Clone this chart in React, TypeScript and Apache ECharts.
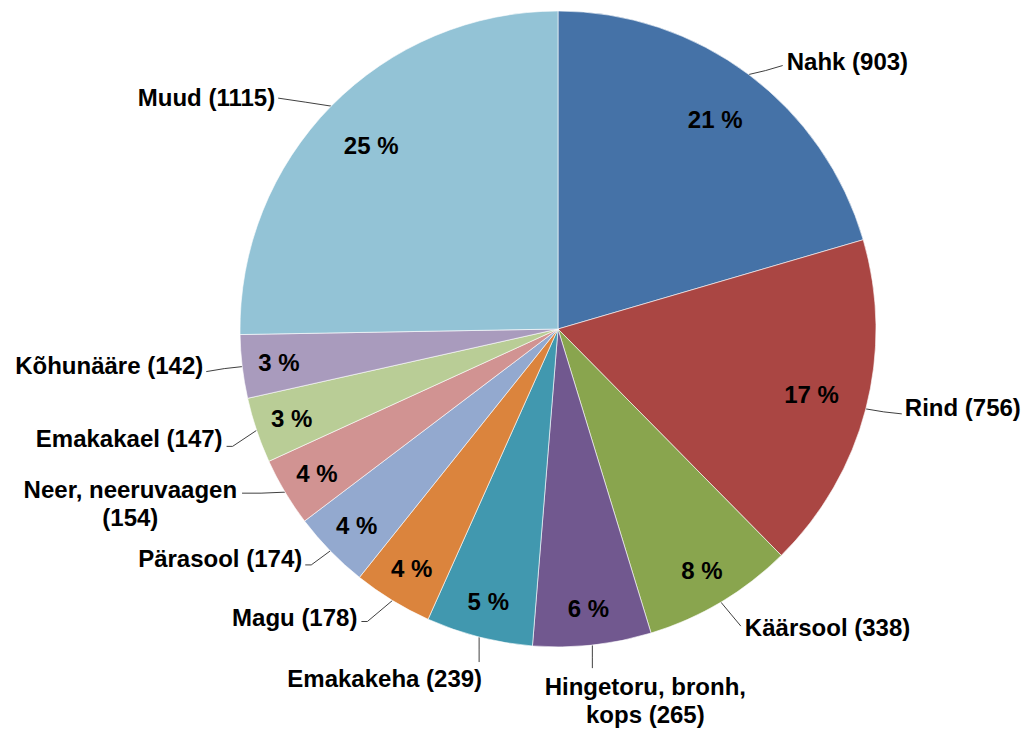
import React, { useEffect, useRef } from 'react';
import * as echarts from 'echarts';

const names = [
  'Nahk',
  'Rind',
  'Käärsool',
  'Hingetoru, bronh,\nkops',
  'Emakakeha',
  'Magu',
  'Pärasool',
  'Neer, neeruvaagen\n',
  'Emakakael',
  'Kõhunääre',
  'Muud',
];
const values = [903, 756, 338, 265, 239, 178, 174, 154, 147, 142, 1115];
const percentLabels = ['21 %', '17 %', '8 %', '6 %', '5 %', '4 %', '4 %', '4 %', '3 %', '3 %', '25 %'];
const colors = [
  '#4572A7', '#AA4643', '#89A54E', '#71588F', '#4198AF', '#DB843D',
  '#93A9CF', '#D19392', '#B9CD96', '#A99BBD', '#93C3D6',
];

const FONT = '"Liberation Sans", Arial, sans-serif';
const CX = 558;
const CY = 329;
const R = 318;

const total = values.reduce((a, b) => a + b, 0);
function midAngle(i: number) {
  let s = 0;
  for (let j = 0; j < i; j++) s += values[j];
  return ((s + values[i] / 2) / total) * Math.PI * 2;
}
function polar(i: number, d: number): [number, number] {
  const a = midAngle(i);
  return [CX + d * Math.sin(a), CY - d * Math.cos(a)];
}

export default function App() {
  const ref = useRef<HTMLDivElement>(null);
  useEffect(() => {
    document.body.style.margin = '0';
    const chart = echarts.init(ref.current!, null, { renderer: 'svg' });
    const data = names.map((n, i) => ({ name: n, value: values[i] }));
    chart.setOption({
      animation: false,
      backgroundColor: '#fff',
      color: colors,
      series: [
        {
          type: 'pie',
          center: [CX, CY],
          radius: R,
          startAngle: 90,
          clockwise: true,
          data,
          itemStyle: { borderColor: '#fff', borderWidth: 0.6 },
          label: {
            show: true,
            position: 'outside',
            alignTo: 'none',
            formatter: (p: any) => {
              const n: string = p.name;
              return n.endsWith('\n') ? `${n}(${p.value})` : `${n} (${p.value})`;
            },
            fontSize: 24,
            fontWeight: 'bold',
            fontFamily: FONT,
            color: '#000',
            lineHeight: 28,
          },
          labelLine: {
            show: true,
            length: 14,
            length2: 18,
            lineStyle: { color: '#404040', width: 1 },
          },
          labelLayout: (p: any) => {
            const i = p.dataIndex;
            const [ex, ey] = polar(i, R);
            const e = [ex, ey];
            switch (i) {
              case 0:
                return { x: ex + 38, y: ey - 13, align: 'left', verticalAlign: 'middle',
                  labelLinePoints: [e, [ex + 17, ey - 4], [ex + 34, ey - 9]] };
              case 1:
                return { x: ex + 39, y: ey - 1, align: 'left', verticalAlign: 'middle',
                  labelLinePoints: [e, [ex + 18, ey + 3], [ex + 36, ey + 5]] };
              case 2:
                return { x: ex + 24, y: ey + 25, align: 'left', verticalAlign: 'middle',
                  labelLinePoints: [e, [ex + 10, ey + 12], [ex + 20, ey + 24]] };
              case 3:
                return { x: ex + 53, y: ey + 27, align: 'center', verticalAlign: 'top',
                  labelLinePoints: [e, [ex, ey + 12], [ex, ey + 23]] };
              case 4:
                return { x: ex + 3, y: ey + 27, align: 'right', verticalAlign: 'top',
                  labelLinePoints: [e, [ex, ey + 12], [ex, ey + 25]] };
              case 5:
                return { x: ex - 35, y: ey + 17, align: 'right', verticalAlign: 'middle',
                  labelLinePoints: [e, [ex - 25, ey + 21], [ex - 31, ey + 21]] };
              case 6:
                return { x: ex - 28, y: ey + 8, align: 'right', verticalAlign: 'middle',
                  labelLinePoints: [e, [ex - 19, ey + 14], [ex - 25, ey + 14]] };
              case 7: {
                const w = p.labelRect ? p.labelRect.width : 216;
                return { x: ex - 48 - w / 2, y: ey - 17, align: 'center', verticalAlign: 'top',
                  labelLinePoints: [e, [ex - 24, ey + 1], [ex - 43, ey + 1]] };
              }
              case 8:
                return { x: ex - 34, y: ey + 8, align: 'right', verticalAlign: 'middle',
                  labelLinePoints: [e, [ex - 24, ey + 16], [ex - 30, ey + 16]] };
              case 9:
                return { x: ex - 39, y: ey - 1, align: 'right', verticalAlign: 'middle',
                  labelLinePoints: [e, [ex - 18, ey + 2], [ex - 36, ey + 5]] };
              case 10:
                return { x: ex - 56, y: ey - 9, align: 'right', verticalAlign: 'middle',
                  labelLinePoints: [e, [ex - 26, ey - 4], [ex - 53, ey - 8]] };
            }
            return {};
          },
        },
        {
          type: 'pie',
          center: [CX, CY],
          radius: [216, R],
          startAngle: 90,
          clockwise: true,
          silent: true,
          data,
          itemStyle: { color: 'transparent' },
          label: {
            show: true,
            position: 'inside',
            formatter: (p: any) => percentLabels[p.dataIndex],
            fontSize: 24,
            fontWeight: 'bold',
            fontFamily: FONT,
            color: '#000',
          },
          labelLine: { show: false },
          labelLayout: (p: any) => {
            const i = p.dataIndex;
            const d = values[i] / total > 0.1 ? 262 : 281;
            const [x, y] = polar(i, d);
            return { x, y, align: 'center', verticalAlign: 'middle' };
          },
        },
      ],
    });
    return () => chart.dispose();
  }, []);
  return <div ref={ref} style={{ width: 1029, height: 733 }} />;
}
